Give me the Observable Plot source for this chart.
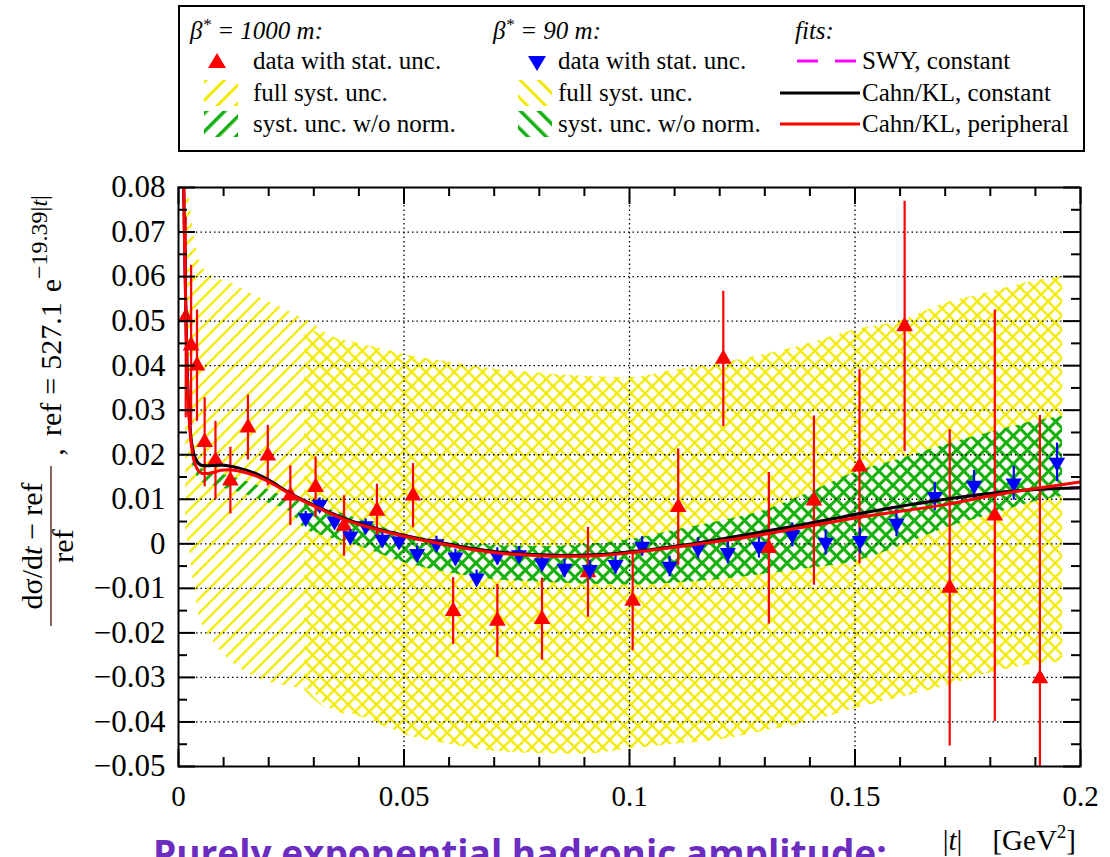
<!DOCTYPE html>
<html><head><meta charset="utf-8">
<script src="https://cdn.jsdelivr.net/npm/d3@7"></script>
<script src="https://cdn.jsdelivr.net/npm/@observablehq/plot@0.6"></script>
<style>
body{margin:0;background:#fff;width:1110px;height:857px;overflow:hidden;position:relative;font-family:'Liberation Serif','Times New Roman',serif;}
#legendbox{position:absolute;left:178px;top:5px;width:903px;height:143px;border:2px solid #000;}
.li{position:absolute;font-size:25px;line-height:30px;white-space:nowrap;color:#000;}
.sw{position:absolute;}
#chart{position:absolute;left:0;top:160px;}
#chart svg text, #chart svg tspan{font-family:'Liberation Serif','Times New Roman',serif !important;}
#bottom{position:absolute;left:153px;top:834px;font-family:'Open Sans',sans-serif;font-weight:700;font-size:37px;line-height:37px;color:#6b2cc0;white-space:nowrap;}
</style>
</head><body>
<svg width="0" height="0" style="position:absolute">
<defs>
<pattern id="yS" patternUnits="userSpaceOnUse" width="10" height="10" patternTransform="rotate(45)"><rect x="0" y="0" width="2.3" height="10" fill="#f2ea00"/></pattern>
<pattern id="yB" patternUnits="userSpaceOnUse" width="10" height="10" patternTransform="rotate(-45)"><rect x="0" y="0" width="2.3" height="10" fill="#f2ea00"/></pattern>
<pattern id="gS" patternUnits="userSpaceOnUse" width="10" height="10" patternTransform="rotate(45)"><rect x="0" y="0" width="3" height="10" fill="#14b014"/></pattern>
<pattern id="gB" patternUnits="userSpaceOnUse" width="10" height="10" patternTransform="rotate(-45)"><rect x="0" y="0" width="3" height="10" fill="#14b014"/></pattern>
<pattern id="yS2" patternUnits="userSpaceOnUse" width="13" height="13" patternTransform="rotate(45)"><rect x="0" y="0" width="3" height="13" fill="#f2ea00"/></pattern>
<pattern id="yB2" patternUnits="userSpaceOnUse" width="13" height="13" patternTransform="rotate(-45)"><rect x="0" y="0" width="3" height="13" fill="#f2ea00"/></pattern>
<pattern id="gS2" patternUnits="userSpaceOnUse" width="13" height="13" patternTransform="rotate(45)"><rect x="0" y="0" width="3.5" height="13" fill="#14b014"/></pattern>
<pattern id="gB2" patternUnits="userSpaceOnUse" width="13" height="13" patternTransform="rotate(-45)"><rect x="0" y="0" width="3.5" height="13" fill="#14b014"/></pattern>
</defs></svg>

<div id="legendbox"></div>
<div class="li" style="left:190px;top:16px;font-style:italic">β<sup style="font-size:17px;line-height:0">*</sup> = 1000 m:</div>
<div class="li" style="left:493px;top:16px;font-style:italic">β<sup style="font-size:17px;line-height:0">*</sup> = 90 m:</div>
<div class="li" style="left:795px;top:16px;font-style:italic">fits:</div>

<svg class="sw" style="left:206px;top:51px" width="22" height="19"><polygon points="11,2 20,17 2,17" fill="#ff0000"/></svg>
<div class="li" style="left:253px;top:46px">data with stat. unc.</div>
<svg class="sw" style="left:204px;top:80px" width="34" height="26"><rect width="34" height="26" fill="url(#yS2)"/></svg>
<div class="li" style="left:253px;top:78px">full syst. unc.</div>
<svg class="sw" style="left:204px;top:111px" width="34" height="26"><rect width="34" height="26" fill="url(#gS2)"/></svg>
<div class="li" style="left:253px;top:109px">syst. unc. w/o norm.</div>

<svg class="sw" style="left:526px;top:54px" width="22" height="19"><polygon points="2,2 20,2 11,17" fill="#0000ff"/></svg>
<div class="li" style="left:558px;top:46px">data with stat. unc.</div>
<svg class="sw" style="left:518px;top:80px" width="34" height="26"><rect width="34" height="26" fill="url(#yB2)"/></svg>
<div class="li" style="left:558px;top:78px">full syst. unc.</div>
<svg class="sw" style="left:518px;top:111px" width="34" height="26"><rect width="34" height="26" fill="url(#gB2)"/></svg>
<div class="li" style="left:558px;top:109px">syst. unc. w/o norm.</div>

<svg class="sw" style="left:780px;top:56px" width="80" height="10"><line x1="0" y1="5" x2="80" y2="5" stroke="#ff00ff" stroke-width="3" stroke-dasharray="21,17" stroke-dashoffset="-17"/></svg>
<div class="li" style="left:862px;top:46px">SWY, constant</div>
<svg class="sw" style="left:780px;top:88px" width="80" height="10"><line x1="0" y1="5" x2="80" y2="5" stroke="#000" stroke-width="3"/></svg>
<div class="li" style="left:862px;top:78px">Cahn/KL, constant</div>
<svg class="sw" style="left:780px;top:119px" width="80" height="10"><line x1="0" y1="5" x2="80" y2="5" stroke="#ff0000" stroke-width="3"/></svg>
<div class="li" style="left:862px;top:109px">Cahn/KL, peripheral</div>

<div id="chart"></div>
<div id="bottom">Purely exponential hadronic amplitude:</div>

<script>
// ---------- data ----------
// beta* = 1000 m (red, triangle up)
const t1000 = [0.0016, 0.0028, 0.0041, 0.0058, 0.0082, 0.0115, 0.0154, 0.0198, 0.0248, 0.0304, 0.0367, 0.0440, 0.0520, 0.0609, 0.0707, 0.0806, 0.0908, 0.1007, 0.1108, 0.1208, 0.1309, 0.1409, 0.1510, 0.1610, 0.1710, 0.1810, 0.1910];
const v1000 = [0.0508, 0.0445, 0.0400, 0.0228, 0.0187, 0.0142, 0.0261, 0.0198, 0.0108, 0.0127, 0.0040, 0.0074, 0.0108, -0.0151, -0.0173, -0.0169, -0.0064, -0.0128, 0.0082, 0.0415, -0.0010, 0.0097, 0.0173, 0.0488, -0.0099, 0.0063, -0.0302];
const e1000 = [0.0225, 0.0180, 0.0125, 0.0100, 0.0088, 0.0075, 0.0073, 0.0068, 0.0067, 0.0068, 0.0068, 0.0060, 0.0072, 0.0075, 0.0082, 0.0092, 0.0101, 0.0112, 0.0131, 0.0152, 0.0170, 0.0190, 0.0218, 0.0281, 0.0355, 0.0462, 0.0590];

// beta* = 90 m (blue, triangle down)
const t90 = [0.0282, 0.0313, 0.0346, 0.0381, 0.0415, 0.0452, 0.0489, 0.0529, 0.0572, 0.0614, 0.0661, 0.0707, 0.0755, 0.0806, 0.0856, 0.0912, 0.0969, 0.1028, 0.1089, 0.1152, 0.1218, 0.1287, 0.1361, 0.1435, 0.1511, 0.1592, 0.1677, 0.1764, 0.1852, 0.1948];
const v90 = [0.0058, 0.0088, 0.0051, 0.0017, 0.0040, 0.0010, 0.0006, -0.0022, 0.0000, -0.0030, -0.0077, -0.0028, -0.0025, -0.0043, -0.0055, -0.0058, -0.0047, -0.0006, -0.0051, -0.0010, -0.0020, -0.0006, 0.0020, 0.0003, 0.0007, 0.0046, 0.0106, 0.0131, 0.0136, 0.0183];
const e90 = [0.0015, 0.0015, 0.0015, 0.0015, 0.0016, 0.0016, 0.0016, 0.0017, 0.0017, 0.0018, 0.0018, 0.0019, 0.0019, 0.0020, 0.0020, 0.0021, 0.0021, 0.0022, 0.0023, 0.0024, 0.0025, 0.0026, 0.0027, 0.0028, 0.0029, 0.0030, 0.0032, 0.0034, 0.0038, 0.0043];

// full systematic band, beta* = 1000 m
const tFull1000 = [0.0016, 0.0025, 0.0035, 0.0045, 0.0056, 0.0080, 0.0112, 0.0141, 0.0171, 0.0204, 0.0234, 0.0263, 0.0289, 0.0337, 0.0400, 0.0460, 0.0500, 0.0600, 0.0700, 0.0800, 0.0900, 0.1000, 0.1100, 0.1200, 0.1300, 0.1400, 0.1500, 0.1600, 0.1700, 0.1800, 0.1900, 0.1960];
const hiFull1000 = [0.0850, 0.0770, 0.0690, 0.0640, 0.0617, 0.0598, 0.0587, 0.0572, 0.0557, 0.0542, 0.0527, 0.0512, 0.0500, 0.0467, 0.0450, 0.0435, 0.0425, 0.0408, 0.0392, 0.0383, 0.0376, 0.0373, 0.0390, 0.0405, 0.0425, 0.0450, 0.0480, 0.0500, 0.0540, 0.0565, 0.0590, 0.0600];
const loFull1000 = [0.0030, -0.0020, -0.0100, -0.0160, -0.0187, -0.0223, -0.0260, -0.0283, -0.0300, -0.0312, -0.0318, -0.0323, -0.0327, -0.0370, -0.0386, -0.0410, -0.0427, -0.0450, -0.0465, -0.0470, -0.0472, -0.0460, -0.0450, -0.0440, -0.0420, -0.0400, -0.0370, -0.0345, -0.0320, -0.0290, -0.0270, -0.0264];

// full systematic band, beta* = 90 m
const tFull90 = [0.0280, 0.0337, 0.0400, 0.0460, 0.0500, 0.0600, 0.0700, 0.0800, 0.0900, 0.1000, 0.1100, 0.1200, 0.1300, 0.1400, 0.1500, 0.1600, 0.1700, 0.1800, 0.1900, 0.1960];
const hiFull90 = [0.0485, 0.0465, 0.0450, 0.0435, 0.0425, 0.0408, 0.0392, 0.0383, 0.0376, 0.0373, 0.0390, 0.0405, 0.0425, 0.0450, 0.0480, 0.0500, 0.0540, 0.0565, 0.0590, 0.0600];
const loFull90 = [-0.0330, -0.0375, -0.0388, -0.0412, -0.0428, -0.0450, -0.0466, -0.0471, -0.0472, -0.0460, -0.0450, -0.0440, -0.0420, -0.0400, -0.0370, -0.0345, -0.0320, -0.0290, -0.0270, -0.0264];

// syst. unc. w/o normalisation, beta* = 1000 m
const tNoN1000 = [0.0030, 0.0050, 0.0080, 0.0120, 0.0160, 0.0200, 0.0250, 0.0280, 0.0350, 0.0400, 0.0500, 0.0600, 0.0700, 0.0800, 0.0900, 0.1000, 0.1100, 0.1200, 0.1300, 0.1400, 0.1500, 0.1600, 0.1700, 0.1800, 0.1900, 0.1960];
const hiNoN1000 = [0.0210, 0.0170, 0.0160, 0.0150, 0.0137, 0.0121, 0.0100, 0.0095, 0.0072, 0.0055, 0.0022, 0.0005, -0.0003, -0.0006, -0.0002, 0.0009, 0.0030, 0.0050, 0.0075, 0.0115, 0.0160, 0.0190, 0.0222, 0.0250, 0.0275, 0.0286];
const loNoN1000 = [0.0180, 0.0140, 0.0130, 0.0120, 0.0107, 0.0091, 0.0070, 0.0035, 0.0010, -0.0005, -0.0042, -0.0065, -0.0080, -0.0086, -0.0090, -0.0092, -0.0088, -0.0080, -0.0068, -0.0055, -0.0040, -0.0005, 0.0035, 0.0065, 0.0095, 0.0106];

// syst. unc. w/o normalisation, beta* = 90 m
const tNoN90 = [0.0280, 0.0350, 0.0400, 0.0500, 0.0600, 0.0700, 0.0800, 0.0900, 0.1000, 0.1100, 0.1200, 0.1300, 0.1400, 0.1500, 0.1600, 0.1700, 0.1800, 0.1900, 0.1960];
const hiNoN90 = [0.0095, 0.0072, 0.0055, 0.0022, 0.0005, -0.0003, -0.0006, -0.0002, 0.0009, 0.0030, 0.0050, 0.0075, 0.0115, 0.0160, 0.0190, 0.0222, 0.0250, 0.0275, 0.0286];
const loNoN90 = [0.0035, 0.0010, -0.0005, -0.0042, -0.0065, -0.0080, -0.0086, -0.0090, -0.0092, -0.0088, -0.0080, -0.0068, -0.0055, -0.0040, -0.0005, 0.0035, 0.0065, 0.0095, 0.0106];

// fits
const tFit = [0.0010, 0.0013, 0.0016, 0.0019, 0.0023, 0.0027, 0.0032, 0.0038, 0.0045, 0.0053, 0.0065, 0.0080, 0.0095, 0.0110, 0.0130, 0.0152, 0.0175, 0.0197, 0.0220, 0.0248, 0.0300, 0.0367, 0.0426, 0.0500, 0.0573, 0.0647, 0.0714, 0.0788, 0.0862, 0.0936, 0.1010, 0.1084, 0.1158, 0.1268, 0.1400, 0.1500, 0.1600, 0.1700, 0.1823, 0.1900, 0.2000];
const fitSWYconst = [0.090, 0.071, 0.054, 0.040, 0.030, 0.0245, 0.0210, 0.0190, 0.0180, 0.0176, 0.0175, 0.0176, 0.0177, 0.0175, 0.0171, 0.0165, 0.0156, 0.0145, 0.0131, 0.0113, 0.0087, 0.0057, 0.0038, 0.0019, 0.0004, -0.0010, -0.0019, -0.0024, -0.0026, -0.0024, -0.0017, -0.0008, 0.0003, 0.0022, 0.0046, 0.0066, 0.0084, 0.0100, 0.0116, 0.0122, 0.0126];
const fitCahnConst = [0.090, 0.071, 0.054, 0.040, 0.030, 0.0245, 0.0210, 0.0190, 0.0180, 0.0176, 0.0175, 0.0176, 0.0177, 0.0175, 0.0171, 0.0165, 0.0156, 0.0145, 0.0131, 0.0113, 0.0087, 0.0057, 0.0038, 0.0019, 0.0004, -0.0010, -0.0019, -0.0024, -0.0026, -0.0024, -0.0017, -0.0008, 0.0003, 0.0022, 0.0046, 0.0066, 0.0084, 0.0100, 0.0116, 0.0122, 0.0126];
const fitCahnPeri = [0.090, 0.070, 0.053, 0.039, 0.029, 0.0235, 0.0198, 0.0175, 0.0163, 0.0158, 0.0158, 0.0161, 0.0165, 0.0166, 0.0164, 0.0159, 0.0151, 0.0141, 0.0128, 0.0111, 0.0085, 0.0055, 0.0036, 0.0017, 0.0002, -0.0012, -0.0021, -0.0026, -0.0028, -0.0026, -0.0019, -0.0010, 0.0000, 0.0016, 0.0040, 0.0058, 0.0073, 0.0088, 0.0112, 0.0124, 0.0139];

// axes
const xMajorTicks = [0, 0.05, 0.1, 0.15, 0.2];
const xMinorTicks = [0.01, 0.02, 0.03, 0.04, 0.06, 0.07, 0.08, 0.09, 0.11, 0.12, 0.13, 0.14, 0.16, 0.17, 0.18, 0.19];
const yMajorTicks = [0.08, 0.07, 0.06, 0.05, 0.04, 0.03, 0.02, 0.01, 0, -0.01, -0.02, -0.03, -0.04, -0.05];
const yMinorTicks = [0.075, 0.065, 0.055, 0.045, 0.035, 0.025, 0.015, 0.005, -0.005, -0.015, -0.025, -0.035, -0.045];
const xGridLines = [0.05, 0.1, 0.15];
const yGridLines = [0.07, 0.06, 0.05, 0.04, 0.03, 0.02, 0.01, 0, -0.01, -0.02, -0.03, -0.04];

// ---------- build tables ----------
const zipPts = (t, v, e) => t.map((x, i) => ({t: x, v: v[i], e: e[i]}));
const zipBand = (t, lo, hi) => t.map((x, i) => ({t: x, lo: lo[i], hi: hi[i]}));
const zipFit = (t, v) => t.map((x, i) => ({t: x, v: v[i]}));
const pts1000 = zipPts(t1000, v1000, e1000);
const pts90 = zipPts(t90, v90, e90);
const bandFull1000 = zipBand(tFull1000, loFull1000, hiFull1000);
const bandFull90 = zipBand(tFull90, loFull90, hiFull90);
const bandNoN1000 = zipBand(tNoN1000, loNoN1000, hiNoN1000);
const bandNoN90 = zipBand(tNoN90, loNoN90, hiNoN90);

const fmt = d => d === 0 ? "0" : (d < 0 ? "\u2212" : "") + String(+Math.abs(d).toFixed(3));

const W = 1110, H = 697, mL = 178, mR = 30, mT = 27, mB = 91;
const frameH = H - mT - mB, frameW = W - mL - mR;
const majorLen = 17, minorLen = 9;

const triangleDown = {
  draw(ctx, size) {
    const y = Math.sqrt(size / (Math.sqrt(3) * 3));
    ctx.moveTo(0, 2 * y);
    ctx.lineTo(Math.sqrt(3) * y, -y);
    ctx.lineTo(-Math.sqrt(3) * y, -y);
    ctx.closePath();
  }
};

const font = "'Liberation Serif', 'Times New Roman', serif";
const chart = Plot.plot({
  width: W, height: H,
  marginLeft: mL, marginRight: mR, marginTop: mT, marginBottom: mB,
  x: {domain: [0, 0.2], axis: null},
  y: {domain: [-0.05, 0.08], axis: null},
  style: `font-family: ${font}; background: white; overflow: visible;`,
  marks: [
    Plot.areaY(bandFull1000, {x: "t", y1: "lo", y2: "hi", fill: "url(#yS)", curve: "monotone-x", clip: true}),
    Plot.areaY(bandFull90, {x: "t", y1: "lo", y2: "hi", fill: "url(#yB)", curve: "monotone-x", clip: true}),
    Plot.areaY(bandNoN1000, {x: "t", y1: "lo", y2: "hi", fill: "url(#gS)", curve: "monotone-x", clip: true}),
    Plot.areaY(bandNoN90, {x: "t", y1: "lo", y2: "hi", fill: "url(#gB)", curve: "monotone-x", clip: true}),
    Plot.gridX(xGridLines, {stroke: "black", strokeOpacity: 1, strokeWidth: 1.3, strokeDasharray: "1.5,3"}),
    Plot.gridY(yGridLines, {stroke: "black", strokeOpacity: 1, strokeWidth: 1.3, strokeDasharray: "1.5,3"}),
    // data beta*=1000 m
    Plot.ruleX(pts1000, {x: "t", y1: d => d.v - d.e, y2: d => d.v + d.e, stroke: "#ff0000", strokeWidth: 2.2, clip: true}),
    Plot.dot(pts1000, {x: "t", y: "v", symbol: "triangle", r: 6.2, fill: "#ff0000", stroke: "none", clip: true}),
    // data beta*=90 m
    Plot.ruleX(pts90, {x: "t", y1: d => d.v - d.e, y2: d => d.v + d.e, stroke: "#0000ff", strokeWidth: 2.2, clip: true}),
    Plot.dot(pts90, {x: "t", y: "v", symbol: triangleDown, r: 6.0, fill: "#0000ff", stroke: "none", clip: true}),
    // fits
    Plot.line(zipFit(tFit, fitSWYconst), {x: "t", y: "v", stroke: "#ff00ff", strokeWidth: 3, strokeDasharray: "21,17", curve: "monotone-x", clip: true}),
    Plot.line(zipFit(tFit, fitCahnConst), {x: "t", y: "v", stroke: "#000000", strokeWidth: 3, curve: "monotone-x", clip: true}),
    Plot.line(zipFit(tFit, fitCahnPeri), {x: "t", y: "v", stroke: "#ff0000", strokeWidth: 3, curve: "monotone-x", clip: true}),
    // ticks (inside, all four sides)
    Plot.ruleX(xMajorTicks, {x: d => d, insetTop: frameH - majorLen, stroke: "black", strokeWidth: 2}),
    Plot.ruleX(xMajorTicks, {x: d => d, insetBottom: frameH - majorLen, stroke: "black", strokeWidth: 2}),
    Plot.ruleX(xMinorTicks, {x: d => d, insetTop: frameH - minorLen, stroke: "black", strokeWidth: 2}),
    Plot.ruleX(xMinorTicks, {x: d => d, insetBottom: frameH - minorLen, stroke: "black", strokeWidth: 2}),
    Plot.ruleY(yMajorTicks, {y: d => d, insetRight: frameW - majorLen, stroke: "black", strokeWidth: 2}),
    Plot.ruleY(yMajorTicks, {y: d => d, insetLeft: frameW - majorLen, stroke: "black", strokeWidth: 2}),
    Plot.ruleY(yMinorTicks, {y: d => d, insetRight: frameW - minorLen, stroke: "black", strokeWidth: 2}),
    Plot.ruleY(yMinorTicks, {y: d => d, insetLeft: frameW - minorLen, stroke: "black", strokeWidth: 2}),
    Plot.frame({stroke: "black", strokeWidth: 2}),
    Plot.axisX(xMajorTicks, {tickSize: 0, tickPadding: 19, fontSize: 29, fontFamily: font, tickFormat: fmt, label: null, fill: "black"}),
    Plot.axisY(yMajorTicks, {tickSize: 0, tickPadding: 13, fontSize: 31, fontFamily: font, tickFormat: fmt, label: null, fill: "black"})
  ]
});
document.getElementById("chart").appendChild(chart);

// axis titles
const svg = d3.select(chart);
const off = 160;
const g = svg.append("g").attr("font-family", font).attr("font-size", 30).attr("fill", "black");
// numerator of the fraction
const num = g.append("text").attr("transform", `translate(42,${546 - off}) rotate(-90)`).attr("text-anchor", "middle");
num.append("tspan").text("d\u03c3/d");
num.append("tspan").attr("font-style", "italic").text("t");
num.append("tspan").attr("dx", 7).text("\u2212");
num.append("tspan").attr("dx", 7).text("ref");
g.append("line").attr("x1", 51).attr("x2", 51).attr("y1", 626 - off).attr("y2", 466 - off).attr("stroke", "#5a3326").attr("stroke-width", 1.5);
g.append("text").attr("transform", `translate(73,${546 - off}) rotate(-90)`).attr("text-anchor", "middle").text("ref");
g.append("text").attr("transform", `translate(63,${452 - off}) rotate(-90)`).attr("text-anchor", "middle").text(",");
const eq = g.append("text").attr("transform", `translate(61,${436 - off}) rotate(-90)`).attr("text-anchor", "start");
eq.append("tspan").text("ref");
eq.append("tspan").attr("dx", 8).text("=");
eq.append("tspan").attr("dx", 8).text("527.1");
eq.append("tspan").attr("dx", 10).text("e");
eq.append("tspan").attr("dy", -14).attr("font-size", 24).text("\u221219.39|");
eq.append("tspan").attr("font-size", 24).attr("font-style", "italic").text("t");
eq.append("tspan").attr("font-size", 24).text("|");
// x title
const xt = g.append("text").attr("x", 1076).attr("y", 850 - off).attr("text-anchor", "end").attr("font-size", 29);
xt.append("tspan").text("|");
xt.append("tspan").attr("font-style", "italic").text("t");
xt.append("tspan").text("|");
xt.append("tspan").attr("dx", 30).text("[GeV");
xt.append("tspan").attr("dy", -12).attr("font-size", 19).text("2");
xt.append("tspan").attr("dy", 12).text("]");
</script>
</body></html>
